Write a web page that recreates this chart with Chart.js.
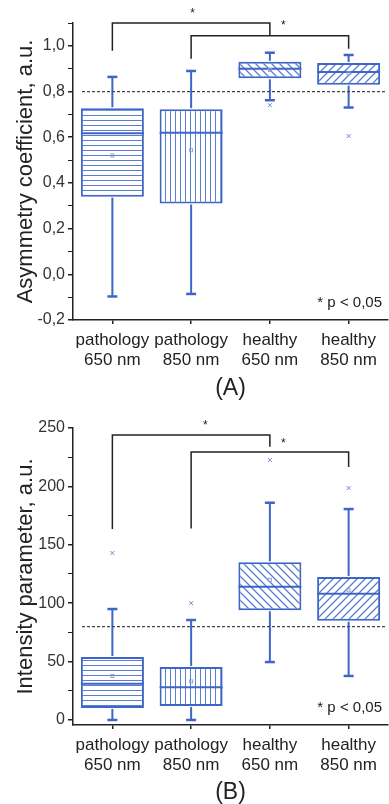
<!DOCTYPE html>
<html>
<head>
<meta charset="utf-8">
<script src="https://cdn.jsdelivr.net/npm/chart.js@4.4.1/dist/chart.umd.min.js"></script>
<style>
  html, body { margin: 0; padding: 0; background: #fff; }
  #wrapA { position: absolute; left: 0; top: 0; width: 389px; height: 400px; }
  #wrapB { position: absolute; left: 0; top: 400px; width: 389px; height: 404px; }
</style>
</head>
<body>
<div id="wrapA"><canvas id="chartA" width="389" height="400"></canvas></div>
<div id="wrapB"><canvas id="chartB" width="389" height="404"></canvas></div>
<script>
const categories = [['pathology', '650 nm'], ['pathology', '850 nm'], ['healthy', '650 nm'], ['healthy', '850 nm']]

// (A) asymmetry coefficient
const asymMin = [-0.097, -0.086, 0.762, 0.73]
const asymQ1 = [0.34, 0.31, 0.858, 0.83]
const asymMedian = [0.617, 0.62, 0.90, 0.886]
const asymQ3 = [0.727, 0.723, 0.93, 0.925]
const asymMax = [0.864, 0.89, 0.97, 0.96]
const asymMean = [0.52, 0.543, 0.895, 0.88]
const asymOutliers = [[], [], [0.74], [0.605]]
const asymThreshold = 0.8
const asymTicks = { min: -0.2, max: 1.1, step: 0.1 }

// (B) intensity parameter
const intMin = [0, 0, 49.6, 37.7]
const intQ1 = [10.3, 12, 94, 85]
const intMedian = [31, 28, 114, 108]
const intQ3 = [54, 45.4, 135, 122.5]
const intMax = [95, 85.6, 186, 180.6]
const intMean = [37.7, 33, 120, 111]
const intOutliers = [[143], [100], [222.6], [198.6]]
const intThreshold = 80
const intTicks = { min: -4.3, max: 250, step: 25 }

// significance brackets: category pairs, bracket level, leg ends, star (category pos, value)
const bracketPairs = [[0, 2], [1, 3]]
const asymBracketTop = [1.10, 1.044]
const asymBracketLegs = [[0.978, 1.044], [0.943, 0.987]]
const asymStars = [[1.02, 1.15], [2.17, 1.097]]
const intBracketTop = [244, 229.5]
const intBracketLegs = [[163.5, 234], [164, 216.6]]
const intStars = [[1.18, 254], [2.17, 238]]

const blue = '#3d66c6'
const hatchBlue = '#5b7fd0'
const ink = '#222'
const font = 'Liberation Sans, Arial, sans-serif'

function hatch(ctx, kind) {
  const s = (kind === 'h' || kind === 'v') ? 5 : 8
  const c = document.createElement('canvas')
  c.width = s
  c.height = s
  const g = c.getContext('2d')
  g.fillStyle = '#fff'
  g.fillRect(0, 0, s, s)
  g.strokeStyle = hatchBlue
  g.lineWidth = (kind === 'h' || kind === 'v') ? 1 : 1.3
  g.beginPath()
  if (kind === 'h') { g.moveTo(0, 0.5); g.lineTo(s, 0.5) }
  if (kind === 'v') { g.moveTo(0.5, 0); g.lineTo(0.5, s) }
  if (kind === 'b') {
    g.moveTo(0, 0); g.lineTo(s, s)
    g.moveTo(-1, s - 1); g.lineTo(1, s + 1)
    g.moveTo(s - 1, -1); g.lineTo(s + 1, 1)
  }
  if (kind === 'f') {
    g.moveTo(0, s); g.lineTo(s, 0)
    g.moveTo(-1, 1); g.lineTo(1, -1)
    g.moveTo(s - 1, s + 1); g.lineTo(s + 1, s - 1)
  }
  g.stroke()
  return ctx.createPattern(c, 'repeat')
}

function boxExtras(st) {
  return {
    id: 'boxExtras',
    afterDatasetsDraw(chart) {
      const { ctx, chartArea, scales: { x, y } } = chart
      const bars = chart.getDatasetMeta(0).data
      const line = (x1, y1, x2, y2) => { ctx.beginPath(); ctx.moveTo(x1, y1); ctx.lineTo(x2, y2); ctx.stroke() }
      ctx.save()
      bars.forEach((bar, i) => {
        const cx = bar.x
        const half = bar.width / 2
        ctx.strokeStyle = blue
        ctx.lineWidth = 2
        // whiskers
        line(cx, y.getPixelForValue(st.q3[i]) - 1, cx, y.getPixelForValue(st.max[i]))
        line(cx, y.getPixelForValue(st.q1[i]) + 1, cx, y.getPixelForValue(st.min[i]))
        ctx.lineWidth = 2.5
        line(cx - 5, y.getPixelForValue(st.max[i]), cx + 5, y.getPixelForValue(st.max[i]))
        line(cx - 5, y.getPixelForValue(st.min[i]), cx + 5, y.getPixelForValue(st.min[i]))
        // median
        ctx.lineWidth = 2
        line(cx - half, y.getPixelForValue(st.median[i]), cx + half, y.getPixelForValue(st.median[i]))
        // mean
        ctx.strokeStyle = '#8ea3d8'
        ctx.lineWidth = 1
        const my = y.getPixelForValue(st.mean[i])
        ctx.strokeRect(cx - 1.5, my - 1.5, 3, 3)
        // outliers
        ctx.strokeStyle = '#6f8ad0'
        st.outliers[i].forEach(v => {
          const oy = y.getPixelForValue(v)
          line(cx - 2, oy - 2, cx + 2, oy + 2)
          line(cx - 2, oy + 2, cx + 2, oy - 2)
        })
      })
      // threshold
      ctx.strokeStyle = '#444'
      ctx.lineWidth = 1.3
      ctx.setLineDash([3, 2])
      const ty = y.getPixelForValue(st.threshold)
      line(chartArea.left + 9, ty, chartArea.right - 2, ty)
      ctx.setLineDash([])
      // brackets
      ctx.strokeStyle = ink
      ctx.lineWidth = 1.5
      bracketPairs.forEach(([a, b], k) => {
        const xa = x.getPixelForValue(a)
        const xb = x.getPixelForValue(b)
        const yt = y.getPixelForValue(st.bracketTop[k])
        ctx.beginPath()
        ctx.moveTo(xa, y.getPixelForValue(st.bracketLegs[k][0]))
        ctx.lineTo(xa, yt)
        ctx.lineTo(xb, yt)
        ctx.lineTo(xb, y.getPixelForValue(st.bracketLegs[k][1]))
        ctx.stroke()
      })
      ctx.fillStyle = ink
      ctx.font = '12px ' + font
      ctx.textAlign = 'center'
      ctx.textBaseline = 'middle'
      st.stars.forEach(([c, v]) => ctx.fillText('*', x.getPixelForValue(c), y.getPixelForValue(v) + 2))
      ctx.font = '15px ' + font
      ctx.textAlign = 'right'
      ctx.fillText('* p < 0,05', chartArea.right - 6, chartArea.bottom - 17)
      ctx.restore()
    }
  }
}

function makeChart(id, st, ticks, yTitle, xTitle, fmt, labelEvery, topPad, xHeight) {
  const canvas = document.getElementById(id)
  const ctx = canvas.getContext('2d')
  return new Chart(canvas, {
    type: 'bar',
    data: {
      labels: categories,
      datasets: [{
        data: st.q1.map((q, i) => [q, st.q3[i]]),
        backgroundColor: [hatch(ctx, 'h'), hatch(ctx, 'v'), hatch(ctx, 'b'), hatch(ctx, 'f')],
        borderColor: blue,
        borderWidth: 2,
        borderSkipped: false,
        barPercentage: 0.8,
        categoryPercentage: 1
      }]
    },
    options: {
      responsive: false,
      animation: false,
      layout: { padding: { top: topPad, right: 1, left: 0, bottom: 0 } },
      plugins: { legend: { display: false }, tooltip: { enabled: false } },
      scales: {
        x: {
          offset: true,
          grid: { drawOnChartArea: false, offset: false, tickLength: 4, color: ink, lineWidth: 1.5 },
          border: { color: ink, width: 1.5 },
          ticks: {
            color: ink, padding: 6, autoSkip: false, maxRotation: 0, minRotation: 0,
            font: { family: font, size: 17, lineHeight: 1.2 }
          },
          title: { display: true, text: xTitle, color: ink, font: { family: font, size: 23, lineHeight: 1 }, padding: { top: 0, bottom: 0 } },
          afterFit: (s) => { s.height = xHeight }
        },
        y: {
          min: ticks.min,
          max: ticks.max,
          grid: {
            drawOnChartArea: false, tickLength: 5, color: ink,
            lineWidth: (c) => (Math.round(c.tick.value / ticks.step) % labelEvery === 0 ? 1.5 : 1)
          },
          border: { color: ink, width: 1.5 },
          ticks: {
            stepSize: ticks.step,
            includeBounds: false,
            color: '#333',
            padding: 3,
            font: { family: font, size: 16 },
            callback: (v) => (Math.round(v / ticks.step) % labelEvery === 0 ? fmt(v) : '')
          },
          title: { display: true, text: yTitle, color: ink, font: { family: font, size: 22, lineHeight: 1.2 }, padding: { top: 13, bottom: 0 } },
          afterFit: (s) => { s.width = 73 }
        }
      }
    },
    plugins: [boxExtras(st)]
  })
}

makeChart('chartA', {
  min: asymMin, q1: asymQ1, median: asymMedian, q3: asymQ3, max: asymMax, mean: asymMean,
  outliers: asymOutliers, threshold: asymThreshold,
  bracketTop: asymBracketTop, bracketLegs: asymBracketLegs, stars: asymStars
}, asymTicks, 'Asymmetry coefficient, a.u.', '(A)', (v) => v.toFixed(1).replace('.', ','), 2, 23, 80)

makeChart('chartB', {
  min: intMin, q1: intQ1, median: intMedian, q3: intQ3, max: intMax, mean: intMean,
  outliers: intOutliers, threshold: intThreshold,
  bracketTop: intBracketTop, bracketLegs: intBracketLegs, stars: intStars
}, intTicks, 'Intensity parameter, a.u.', '(B)', (v) => String(Math.round(v)), 2, 28, 79)
</script>
</body>
</html>
